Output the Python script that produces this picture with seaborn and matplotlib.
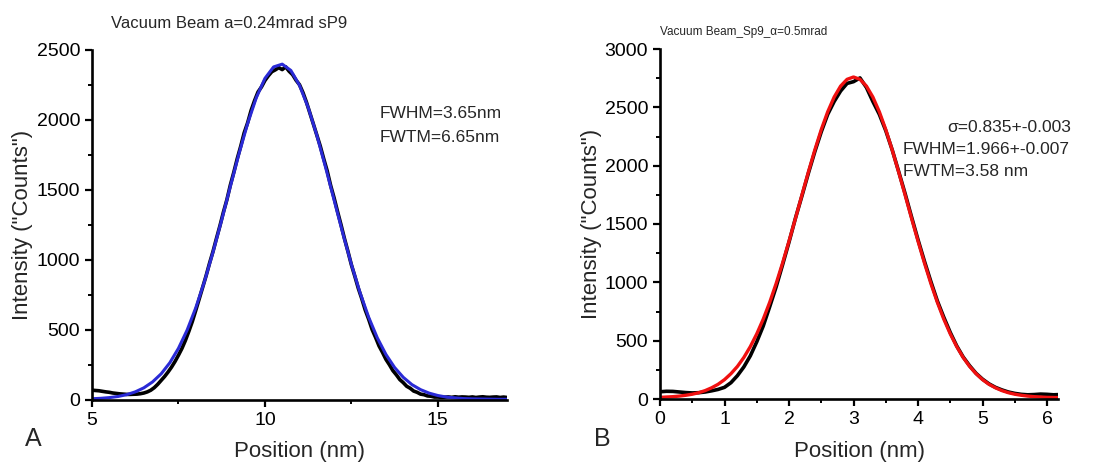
import numpy as np
import pandas as pd
import matplotlib
matplotlib.use("Agg")
import matplotlib.pyplot as plt
from matplotlib.ticker import MultipleLocator
import seaborn as sns

# ---------------- data ----------------
# Panel A: measured profile (black), x = 5.0 ... 17.0 step 0.1
a_pos = [round(5.0 + 0.1 * i, 1) for i in range(121)]
a_counts = [70, 68, 66, 62, 58, 55, 50, 47, 44, 42,
            40, 40, 41, 42, 45, 50, 58, 70, 88, 112,
            140, 168, 200, 235, 275, 320, 368, 425, 490, 560,
            640, 722, 805, 888, 978, 1062, 1155, 1245, 1342, 1430,
            1535, 1626, 1724, 1812, 1908, 1980, 2068, 2138, 2200, 2236,
            2282, 2316, 2345, 2358, 2374, 2360, 2380, 2348, 2324, 2284,
            2252, 2196, 2128, 2050, 1972, 1893, 1814, 1723, 1637, 1533,
            1444, 1346, 1252, 1153, 1062, 966, 884, 798, 724, 643,
            577, 503, 447, 386, 340, 290, 252, 210, 180, 146,
            124, 98, 84, 64, 55, 42, 38, 29, 27, 21,
            21, 19, 20, 22, 19, 23, 20, 22, 21, 19,
            22, 18, 21, 23, 20, 19, 21, 22, 18, 21,
            18]
# Panel A: Gaussian fit (blue), x = 5.0 ... 17.0 step 0.25
a_fit_pos = [round(5.0 + 0.25 * i, 2) for i in range(49)]
a_fit_counts = [9, 12, 17, 25, 38, 58, 87, 129, 187, 266,
                369, 499, 658, 845, 1057, 1286, 1525, 1759, 1975, 2159,
                2297, 2379, 2399, 2354, 2248, 2090, 1892, 1666, 1429, 1193,
                969, 767, 591, 444, 325, 232, 162, 110, 74, 49,
                32, 21, 15, 10, 8, 7, 6, 5, 5]

# Panel B: measured profile (black), x = 0.0 ... 6.2 step 0.1
b_pos = [round(0.1 * i, 1) for i in range(63)]
b_counts = [62, 66, 65, 60, 55, 52, 54, 60, 70, 82,
            100, 140, 200, 275, 370, 490, 625, 790, 960, 1150,
            1345, 1550, 1740, 1935, 2120, 2290, 2440, 2550, 2640, 2705,
            2720, 2752, 2670, 2550, 2440, 2300, 2135, 1950, 1760, 1560,
            1365, 1180, 1005, 840, 700, 570, 455, 360, 285, 220,
            170, 130, 100, 78, 60, 48, 40, 36, 38, 42,
            40, 36, 38]
# Panel B: Gaussian fit (red), x = 0.0 ... 6.2 step 0.1
b_fit_pos = [round(0.1 * i, 1) for i in range(63)]
b_fit_counts = [14, 17, 20, 25, 32, 41, 54, 72, 96, 126,
                166, 217, 279, 356, 449, 558, 684, 828, 989, 1165,
                1353, 1548, 1748, 1945, 2134, 2309, 2462, 2588, 2682, 2740,
                2760, 2740, 2682, 2588, 2462, 2309, 2134, 1945, 1748, 1548,
                1353, 1165, 989, 828, 684, 558, 449, 356, 279, 217,
                166, 126, 96, 72, 54, 41, 32, 25, 20, 17,
                14, 13, 12]

title_a = "Vacuum Beam a=0.24mrad sP9"
title_b = "Vacuum Beam_Sp9_\u03b1=0.5mrad"
notes_a = ["FWHM=3.65nm", "FWTM=6.65nm"]
notes_b = ["\u03c3=0.835+-0.003", "FWHM=1.966+-0.007", "FWTM=3.58 nm"]
xlabel = "Position (nm)"
ylabel = 'Intensity ("Counts")'

# ---------------- style ----------------
sns.set_theme(style="ticks")
plt.rcParams['font.family'] = ['Liberation Sans', 'DejaVu Sans']
plt.rcParams['axes.linewidth'] = 1.9
plt.rcParams['xtick.major.width'] = 1.6
plt.rcParams['ytick.major.width'] = 1.6
plt.rcParams['xtick.minor.width'] = 1.4
plt.rcParams['ytick.minor.width'] = 1.4
plt.rcParams['xtick.major.size'] = 5
plt.rcParams['ytick.major.size'] = 5
plt.rcParams['xtick.minor.size'] = 3
plt.rcParams['ytick.minor.size'] = 3
plt.rcParams['xtick.color'] = 'black'
plt.rcParams['ytick.color'] = 'black'
plt.rcParams['axes.edgecolor'] = 'black'

W, H = 1094, 467
fig = plt.figure(figsize=(W / 100, H / 100), dpi=100)
axA = fig.add_axes([92 / W, 1 - 400 / H, 415 / W, 350 / H])
axB = fig.add_axes([660 / W, 1 - 399 / H, 398 / W, 350 / H])

dfA = pd.DataFrame({"pos": a_pos, "counts": a_counts})
dfAf = pd.DataFrame({"pos": a_fit_pos, "counts": a_fit_counts})
dfB = pd.DataFrame({"pos": b_pos, "counts": b_counts})
dfBf = pd.DataFrame({"pos": b_fit_pos, "counts": b_fit_counts})

sns.lineplot(data=dfA, x="pos", y="counts", ax=axA, color="black", linewidth=2.6, estimator=None)
sns.lineplot(data=dfAf, x="pos", y="counts", ax=axA, color="#2a2ad6", linewidth=2.2, estimator=None)
sns.lineplot(data=dfB, x="pos", y="counts", ax=axB, color="black", linewidth=2.6, estimator=None)
sns.lineplot(data=dfBf, x="pos", y="counts", ax=axB, color="#f01010", linewidth=2.4, estimator=None)

for ax in (axA, axB):
    sns.despine(ax=ax)
    ax.tick_params(axis='both', which='both', direction='out', labelsize=14)
    ax.set_xlabel(xlabel, fontsize=16)
    ax.set_ylabel(ylabel, fontsize=16)
    ax.xaxis.label.set_va('center')
    ax.yaxis.label.set_va('center')

axA.set_xlim(5, 17)
axA.set_ylim(0, 2500)
axA.xaxis.set_major_locator(MultipleLocator(5))
axA.xaxis.set_minor_locator(MultipleLocator(2.5))
axA.yaxis.set_major_locator(MultipleLocator(500))
axA.yaxis.set_minor_locator(MultipleLocator(250))
axA.xaxis.set_label_coords(0.5, -52 / 350)
axA.yaxis.set_label_coords(-69 / 415, 0.5)

axB.set_xlim(0, 6.17)
axB.set_ylim(0, 3000)
axB.xaxis.set_major_locator(MultipleLocator(1))
axB.xaxis.set_minor_locator(MultipleLocator(0.5))
axB.yaxis.set_major_locator(MultipleLocator(500))
axB.yaxis.set_minor_locator(MultipleLocator(250))
axB.xaxis.set_label_coords(0.5, -53 / 350)
axB.yaxis.set_label_coords(-68 / 398, 0.5)

# titles and annotations
fig.text(229 / W, 1 - 23 / H, title_a, ha='center', va='center', fontsize=12)
fig.text(660 / W, 1 - 32 / H, title_b, ha='left', va='center', fontsize=8.5)
for txt, yy in zip(notes_a, [113, 137]):
    fig.text(380 / W, 1 - yy / H, txt, ha='left', va='center', fontsize=12.5)
for txt, xx, yy in zip(notes_b, [947, 903, 903], [127, 149, 172]):
    fig.text(xx / W, 1 - yy / H, txt, ha='left', va='center', fontsize=12.5)
fig.text(33 / W, 1 - 439 / H, "A", ha='center', va='center', fontsize=18)
fig.text(602 / W, 1 - 439 / H, "B", ha='center', va='center', fontsize=18)

fig.savefig("out.png", dpi=100)
